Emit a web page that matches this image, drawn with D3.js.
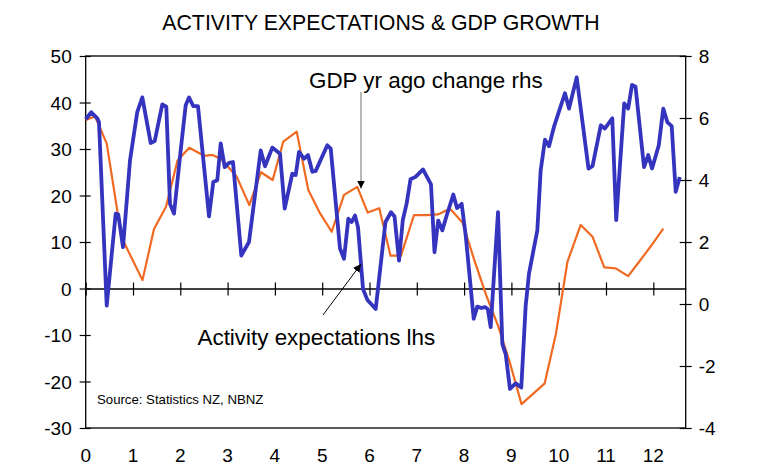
<!DOCTYPE html>
<html><head><meta charset="utf-8">
<script src="https://cdn.jsdelivr.net/npm/d3@7"></script>
<style>body{margin:0;background:#fff}svg{display:block}text{font-family:Arial,"Liberation Sans",sans-serif;fill:#000}</style>
</head><body><svg id="c" width="757" height="474"></svg>
<script>
// Activity expectations (lhs), monthly survey, x = years since 2000
const actYears = [0.000,0.118,0.245,0.281,0.444,0.634,0.689,0.789,0.937,1.091,1.197,1.374,1.459,1.619,1.704,1.782,1.867,2.008,2.114,2.184,2.275,2.374,2.607,2.698,2.782,2.854,2.939,3.030,3.114,3.290,3.452,3.700,3.791,3.945,4.108,4.207,4.368,4.440,4.510,4.615,4.700,4.791,4.863,5.108,5.180,5.376,5.461,5.552,5.624,5.693,5.757,5.863,5.953,6.131,6.338,6.455,6.529,6.624,6.704,6.786,6.867,6.973,7.131,7.300,7.374,7.452,7.539,7.632,7.772,7.850,7.949,8.034,8.203,8.279,8.364,8.442,8.501,8.562,8.717,8.808,8.879,8.970,9.091,9.209,9.302,9.372,9.548,9.619,9.710,9.795,9.901,10.133,10.218,10.381,10.630,10.715,10.890,10.975,11.133,11.216,11.385,11.469,11.550,11.624,11.804,11.893,11.974,12.116,12.211,12.296,12.389,12.474,12.560];
const actValues = [36.4,37.9,36.6,35.8,-3.7,16.1,15.9,8.9,27.6,38.0,41.1,31.3,31.7,39.6,39.1,18.2,16.1,29.7,39.4,41.1,39.2,39.2,15.5,22.9,23.3,31.2,26.1,27.0,27.2,7.1,10.0,29.7,26.3,30.3,29.0,17.2,24.7,24.4,29.4,27.9,28.7,25.1,25.3,30.8,30.1,8.6,6.4,15.0,14.3,15.7,13.2,-0.1,-2.4,-4.4,14.3,16.4,15.5,6.0,14.7,18.3,23.5,24.0,25.6,22.4,7.8,14.6,12.5,15.7,20.2,17.3,18.2,11.4,-6.5,-3.9,-4.2,-4.0,-4.4,-8.3,16.4,-11.9,-14.1,-21.6,-20.4,-21.3,-3.7,3.2,12.5,25.4,32.0,30.6,34.8,42.0,38.7,45.4,25.8,26.3,35.1,34.4,36.6,14.7,39.8,38.7,43.8,43.4,26.1,28.7,25.8,30.8,38.7,35.8,34.9,20.8,24.0];
// GDP annual % change (rhs), quarterly
const gdpYears = [0.000,0.197,0.444,0.757,1.201,1.444,1.698,1.941,2.190,2.501,2.685,2.860,3.192,3.459,3.706,3.953,4.178,4.461,4.706,4.953,5.201,5.461,5.742,5.962,6.207,6.444,6.666,6.941,7.209,7.448,7.702,7.966,8.209,8.463,8.717,8.960,9.214,9.457,9.704,9.943,10.186,10.465,10.715,10.964,11.205,11.469,11.708,11.951,12.211];
const gdpValues = [5.94,6.05,5.18,2.15,0.77,2.42,3.14,4.63,5.04,4.78,4.81,4.68,4.11,3.19,4.25,4.00,5.24,5.56,3.68,2.93,2.33,3.52,3.78,2.95,3.09,1.56,1.56,2.87,2.87,2.89,3.07,2.63,1.45,0.30,-0.70,-1.85,-3.23,-2.90,-2.56,-0.95,1.37,2.55,2.17,1.18,1.15,0.90,1.38,1.87,2.43];
const xTicks = [0,1,2,3,4,5,6,7,8,9,10,11,12];
const leftTicks = [-30,-20,-10,0,10,20,30,40,50];
const rightTicks = [-4,-2,0,2,4,6,8];
const title = "ACTIVITY EXPECTATIONS & GDP GROWTH";

const svg = d3.select("#c");
const L = 85.7, R = 685.7, T = 56, B = 428;
const x = d3.scaleLinear().domain([0, 12.685]).range([L, R]);
const yL = d3.scaleLinear().domain([-30, 50]).range([B, T]);
const yR = d3.scaleLinear().domain([-4, 8]).range([B, T]);
const fmt = d => String(d);

svg.append("text").attr("x", 381).attr("y", 30).attr("text-anchor", "middle")
  .attr("font-size", 21.3).text(title);

// frame
svg.append("rect").attr("x", L).attr("y", T).attr("width", R - L).attr("height", B - T)
  .attr("fill", "none").attr("stroke", "#000").attr("stroke-width", 1.3);

// left axis
const ga = svg.append("g").attr("transform", `translate(${L},0)`)
  .call(d3.axisLeft(yL).tickValues(leftTicks).tickFormat(fmt).tickSize(0).tickPadding(14));
ga.select(".domain").remove();
ga.selectAll("text").attr("font-size", 19).attr("dy", "0.36em").style("font-family", "Arial,'Liberation Sans',sans-serif");
ga.selectAll(".tick").append("line").attr("x1", -6).attr("x2", 5).attr("stroke", "#000").attr("stroke-width", 1.2);

// right axis
const gb = svg.append("g").attr("transform", `translate(${R},0)`)
  .call(d3.axisRight(yR).tickValues(rightTicks).tickFormat(fmt).tickSize(0).tickPadding(13));
gb.select(".domain").remove();
gb.selectAll("text").attr("font-size", 19).attr("dy", "0.36em").style("font-family", "Arial,'Liberation Sans',sans-serif");
gb.selectAll(".tick").append("line").attr("x1", -6).attr("x2", 6).attr("stroke", "#000").attr("stroke-width", 1.2);

// x axis at zero
const y0 = yL(0);
const gx = svg.append("g").attr("transform", `translate(0,${y0})`)
  .call(d3.axisBottom(x).tickValues(xTicks).tickSize(0).tickFormat(""));
gx.select(".domain").attr("stroke", "#000").attr("stroke-width", 1.3);
gx.selectAll(".tick").append("line").attr("y1", -6).attr("y2", 7).attr("stroke", "#000").attr("stroke-width", 1.2);
// bottom labels
svg.append("g").selectAll("text").data(xTicks).join("text")
  .attr("x", d => x(d)).attr("y", 461.5).attr("text-anchor", "middle")
  .attr("font-size", 19).text(fmt);

// lines
const blue = actYears.map((t, i) => [t, actValues[i]]);
const orange = gdpYears.map((t, i) => [t, gdpValues[i]]);
svg.append("path").datum(orange).attr("fill", "none").attr("stroke", "#f06a22").attr("stroke-width", 2.2)
  .attr("stroke-linejoin", "round")
  .attr("d", d3.line().x(d => x(d[0])).y(d => yR(d[1])));
svg.append("path").datum(blue).attr("fill", "none").attr("stroke", "#3434bf").attr("stroke-width", 3.8)
  .attr("stroke-linejoin", "round")
  .attr("d", d3.line().x(d => x(d[0])).y(d => yL(d[1])));

// annotations
const defs = svg.append("defs");
defs.append("marker").attr("id", "ah").attr("viewBox", "0 0 10 10").attr("refX", 10).attr("refY", 5)
  .attr("markerWidth", 8).attr("markerHeight", 8).attr("markerUnits", "userSpaceOnUse").attr("orient", "auto")
  .append("path").attr("d", "M0,0L10,5L0,10z").attr("fill", "#000");
svg.append("text").attr("x", 309).attr("y", 88).attr("font-size", 22.4).text("GDP yr ago change rhs");
svg.append("line").attr("x1", 361).attr("y1", 92).attr("x2", 361).attr("y2", 188.5)
  .attr("stroke", "#a0a0a0").attr("stroke-width", 1.5).attr("marker-end", "url(#ah)");
svg.append("text").attr("x", 197.5).attr("y", 345).attr("font-size", 22.4).text("Activity expectations lhs");
svg.append("line").attr("x1", 323).attr("y1", 315).attr("x2", 361).attr("y2", 264)
  .attr("stroke", "#000").attr("stroke-width", 1).attr("marker-end", "url(#ah)");
svg.append("text").attr("x", 97).attr("y", 404).attr("font-size", 13.2).text("Source: Statistics NZ, NBNZ");
</script></body></html>
